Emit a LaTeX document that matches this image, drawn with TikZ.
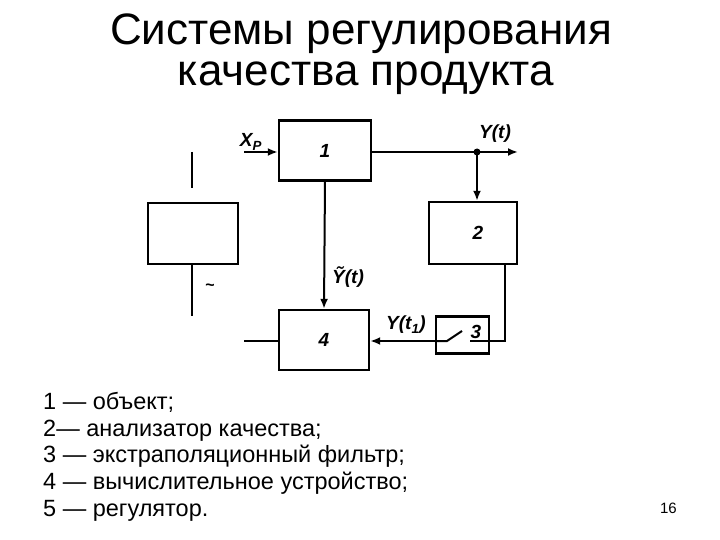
\documentclass[tikz,border=0pt]{standalone}
\usepackage{fontspec}
\setmainfont{Liberation Sans}
\usetikzlibrary{positioning,calc,arrows.meta}

\begin{document}
\begin{tikzpicture}[x=1pt, y=-1pt,
		block/.style={shape=rectangle, draw, line width=2.4pt, inner sep=0pt, font=\fontsize{19}{19}\selectfont\itshape\bfseries},
		sig/.style={inner sep=0pt, font=\fontsize{19}{19}\selectfont\itshape\bfseries},
		wire/.style={line width=2pt},
		arr/.style={wire, -{Latex[length=10pt, width=8pt]}},
		legend/.style={anchor=base west, inner sep=0pt, font=\fontsize{23.5}{26}\selectfont}]
	\useasboundingbox (0,0) rectangle (720,540);

	\node[anchor=base, inner sep=0pt, font=\fontsize{44}{44}\selectfont] (title1) at (361,45) {Системы регулирования};
	\node[anchor=base, inner sep=0pt, font=\fontsize{44}{44}\selectfont] (title2) at (366,86) {качества продукта};

	\node[block, minimum width=92, minimum height=60] (obj) at (325,150.5) {1};
	\node[block, minimum width=90, minimum height=61] (reg) at (193,233.5) {};
	\node[block, minimum width=88, minimum height=62] (anl) at (473,233) {\hspace{10pt}2};
	\node[block, minimum width=90, minimum height=60] (calc) at (324,340) {4};
	\node[block, minimum width=53, minimum height=37] (flt) at (462.5,335) {};

	\coordinate (xin) at (244,152);
	\coordinate (yout) at (518,152);
	\coordinate (dot) at (477,152);
	\coordinate (cout) at (244,341);
	\coordinate (sa) at (447,341);
	\coordinate (sb) at (462,331);
	\coordinate (sc) at (470,341);
	\coordinate (back) at (505,341);
	\coordinate (regtopA) at (192,152);
	\coordinate (regtopB) at (192,188);
	\coordinate (regbot) at (192,316);

	\draw[arr] (xin) -- (xin -| obj.west);
	\draw[arr] (obj.east |- dot) -- (yout);
	\fill (dot) circle (3.5pt);
	\draw[arr] (dot) -- (dot |- anl.north);
	\draw[arr] (obj.south) -- (calc.north);
	\draw[wire] (anl.south -| back) -- (back) -- (sc);
	\draw[wire] (flt.west |- sa) -- (sa) -- (sb);
	\node[sig] (three) at (476,332) {3};
	\draw[arr] (flt.west |- sa) -- (calc.east |- sa);
	\draw[wire] (calc.west |- cout) -- (cout);

	\draw[wire] (regtopA) -- (regtopB);
	\draw[wire] (reg.south -| regbot) -- (regbot);
	\node[inner sep=0pt, font=\fontsize{16}{16}\selectfont\bfseries] (tilde) at (210,287) {\textasciitilde};

	\node[sig] (xp) at (251,142) {X\textsubscript{P}};
	\node[sig] (yt) at (495,134) {Y(t)};
	\node[sig] (yest) at (348,277) {\~{Y}(t)};
	\node[sig] (yt1) at (406,325) {Y(t\textsubscript{1})};

	\node[legend] (l1) at (43,409) {1 — объект;};
	\node[legend] (l2) at (43,436) {2— анализатор качества;};
	\node[legend] (l3) at (43,462) {3 — экстраполяционный фильтр;};
	\node[legend] (l4) at (43,489) {4 — вычислительное устройство;};
	\node[legend] (l5) at (43,516) {5 — регулятор.};

	\node[anchor=base east, inner sep=0pt, font=\fontsize{15}{15}\selectfont] (page) at (677,513) {16};
\end{tikzpicture}
\end{document}
